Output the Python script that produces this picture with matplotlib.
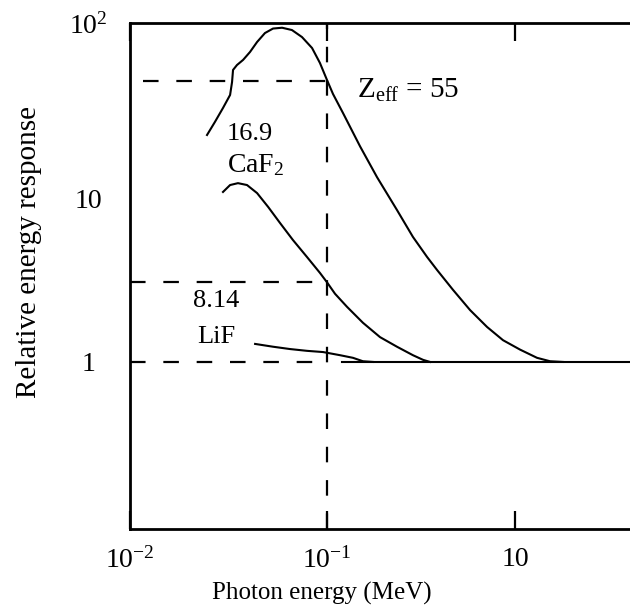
import matplotlib
matplotlib.use("Agg")
import numpy as np
import matplotlib.pyplot as plt
from matplotlib.ticker import FixedLocator, FixedFormatter, NullFormatter, NullLocator

# ---- data ----
zeff55_energy = [0.0246, 0.02698, 0.02965, 0.03221, 0.03296, 0.03334, 0.03491, 0.0375,
                 0.04064, 0.04416, 0.04842, 0.05321, 0.05916, 0.06637, 0.07464, 0.08395,
                 0.09204, 0.1, 0.1076, 0.1216, 0.1499, 0.1845, 0.2355, 0.2864, 0.3404,
                 0.3846, 0.4677, 0.5768, 0.7096, 0.863, 1.064, 1.309, 1.535, 1.8]
zeff55_resp = [23.1, 27.4, 32.9, 39.0, 46.2, 54.1, 57.7, 61.7,
               68.4, 78.0, 87.7, 93.0, 94.0, 91.2, 83.2, 72.1,
               59.3, 47.4, 39.5, 30.8, 19.9, 13.3, 8.56, 5.85, 4.41,
               3.67, 2.77, 2.08, 1.64, 1.36, 1.19, 1.06, 1.01, 1.0]

caf2_energy = [0.02965, 0.03221, 0.03532, 0.03926, 0.04416, 0.05028, 0.0577, 0.06714,
               0.07907, 0.09204, 0.1, 0.1103, 0.1277, 0.1552, 0.1914, 0.2355, 0.2864,
               0.3243, 0.3532]
caf2_resp = [10.96, 12.0, 12.3, 12.0, 10.8, 8.93, 7.13, 5.60,
             4.41, 3.52, 3.08, 2.62, 2.18, 1.74, 1.42, 1.24, 1.10,
             1.03, 1.0]

lif_energy = [0.04315, 0.05321, 0.06486, 0.07907, 0.0955, 0.1173, 0.1374, 0.1552, 0.1758]
lif_resp = [1.29, 1.24, 1.20, 1.17, 1.15, 1.10, 1.06, 1.01, 1.0]

ref_high = 47.0     # Zeff=55 reading at 0.1 MeV
ref_mid = 3.1       # CaF2 reading at 0.1 MeV
ref_one = 1.0
ref_energy = 0.1

x_tick_pos = [0.01, 0.1, 1.0]
x_tick_labels = [r"$10^{-2}$", r"$10^{-1}$", "10"]
y_tick_pos = [1, 10, 100]
y_tick_labels = ["1", "10", r"$10^{2}$"]

# the printed log axes of the original are not evenly spaced per decade
x_knot_log = [-4, -2, -1, 0, 2]
x_knot_len = [-394, 0, 197, 385, 761]
y_knot_log = [-3, 0, 1, 2, 4]
y_knot_len = [-489, 0, 163, 339, 691]


def make_scale(knot_log, knot_len):
    def fwd(v):
        v = np.clip(np.asarray(v, dtype=float), 1e-300, None)
        return np.interp(np.log10(v), knot_log, knot_len)

    def inv(p):
        return 10.0 ** np.interp(np.asarray(p, dtype=float), knot_len, knot_log)
    return fwd, inv


# ---- figure ----
plt.rcParams['font.family'] = ['Liberation Serif', 'DejaVu Serif']
plt.rcParams['mathtext.fontset'] = 'custom'
plt.rcParams['mathtext.rm'] = 'Liberation Serif'
plt.rcParams['mathtext.it'] = 'Liberation Serif'

fig = plt.figure(figsize=(6.3, 6.1), dpi=100)
ax = fig.add_axes([130/630, 81/610, 510/630, 506/610])
ax.set_xscale('function', functions=make_scale(x_knot_log, x_knot_len))
ax.set_yscale('function', functions=make_scale(y_knot_log, y_knot_len))
ax.set_xlim(0.01, 4.62)
ax.set_ylim(0.0944, 100)

lw = 1.5
ax.plot(zeff55_energy, zeff55_resp, color='black', lw=lw, solid_joinstyle='round')
ax.plot(caf2_energy, caf2_resp, color='black', lw=lw, solid_joinstyle='round')
ax.plot(lif_energy, lif_resp, color='black', lw=lw, solid_joinstyle='round')

dash = (0, (7, 8))
ax.plot([0.01164, ref_energy], [ref_high, ref_high], color='black', lw=1.6, ls=dash)
ax.plot([0.01, ref_energy], [ref_mid, ref_mid], color='black', lw=1.6, ls=dash)
ax.plot([0.01, ref_energy], [ref_one, ref_one], color='black', lw=1.6, ls=dash)
ax.plot([ref_energy, ref_energy], [0.0944, 100], color='black', lw=1.6, ls=dash)
ax.plot([0.1202, 4.62], [ref_one, ref_one], color='black', lw=lw)

for s in ax.spines.values():
    s.set_linewidth(2.0)

ax.xaxis.set_major_locator(FixedLocator(x_tick_pos))
ax.xaxis.set_major_formatter(FixedFormatter(x_tick_labels))
ax.xaxis.set_minor_locator(NullLocator())
ax.tick_params(axis='x', which='major', direction='in', length=13, width=1.6,
               top=True, bottom=True, labelsize=20, pad=13)

ax.yaxis.set_major_locator(FixedLocator(y_tick_pos))
ax.yaxis.set_major_formatter(FixedFormatter(y_tick_labels))
ax.yaxis.set_minor_locator(FixedLocator([10]))
ax.yaxis.set_minor_formatter(NullFormatter())
ax.tick_params(axis='y', which='major', length=0, labelsize=20, pad=30)
ax.tick_params(axis='y', which='minor', direction='in', length=21, width=1.6,
               left=True, right=True)
plt.setp(ax.get_yticklabels(), ha='center')

ax.set_xlabel("Photon energy (MeV)", fontsize=18)
ax.xaxis.set_label_coords(0.376, -0.105)
ax.set_ylabel("Relative energy response", fontsize=21)
ax.yaxis.set_label_coords(-0.172, 0.548)

ax.text(0.1445, 37.5, r"Z$_{\rm eff}$ = 55", fontsize=21, ha='left', va='baseline')
ax.text(0.03105, 21.6, "16.9", fontsize=19, ha='left', va='baseline')
ax.text(0.03105, 14.2, r"CaF$_2$", fontsize=20, ha='left', va='baseline')
ax.text(0.0209, 2.18, "8.14", fontsize=19, ha='left', va='baseline')
ax.text(0.02188, 1.31, "LiF", fontsize=19, ha='left', va='baseline')

fig.savefig("out.png", dpi=100, facecolor='white')
